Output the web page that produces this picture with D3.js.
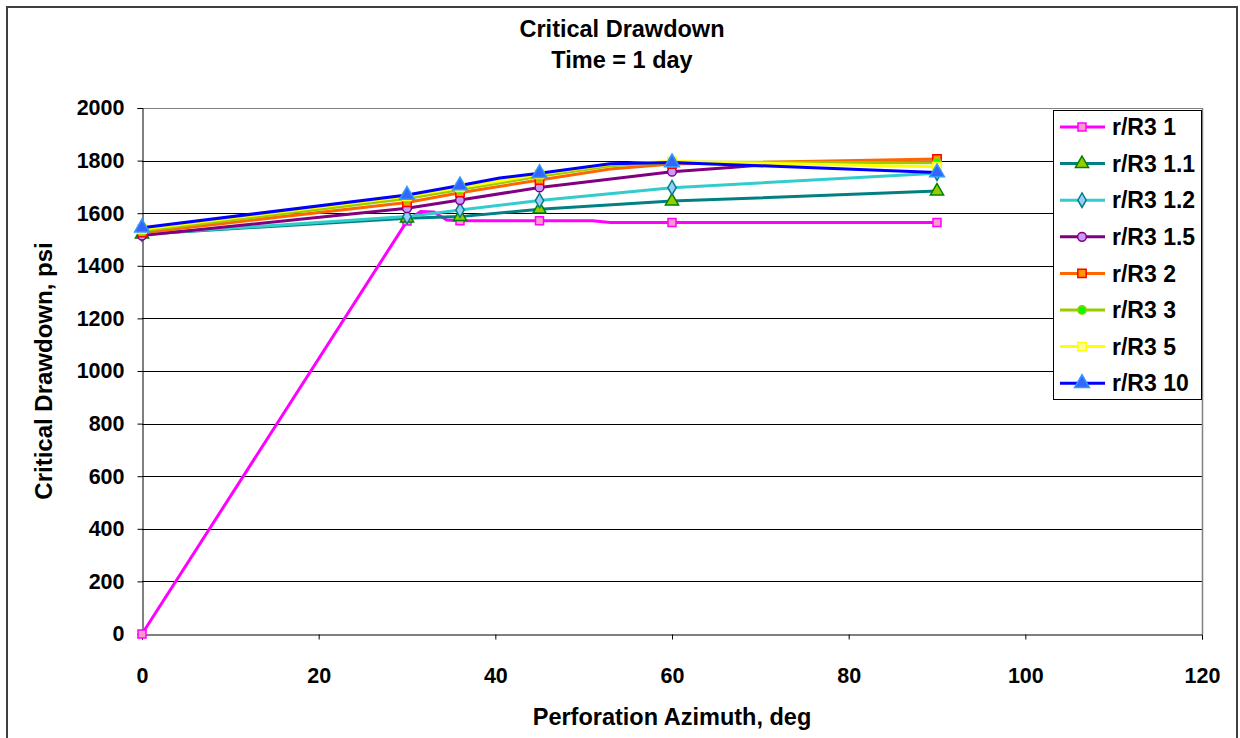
<!DOCTYPE html>
<html>
<head>
<meta charset="utf-8">
<script src="https://cdn.jsdelivr.net/npm/d3@7/dist/d3.min.js"></script>
<style>
  html, body { margin: 0; padding: 0; background: #fff; }
  svg { display: block; }
  text { font-family: "Liberation Sans", Arial, sans-serif; font-weight: bold; fill: #000; }
</style>
</head>
<body>
<svg id="chart" width="1240" height="738"></svg>
<script>
// ---- data ----
const azimuth = [0, 30, 36, 45, 60, 90];
const seriesNames = ["r/R3 1", "r/R3 1.1", "r/R3 1.2", "r/R3 1.5", "r/R3 2", "r/R3 3", "r/R3 5", "r/R3 10"];
const s1   = [0,    1570, 1571, 1571, 1565, 1565];
const s1_1 = [1520, 1581, 1587, 1615, 1646, 1684];
const s1_2 = [1521, 1587, 1612, 1648, 1697, 1752];
const s1_5 = [1515, 1619, 1650, 1698, 1758, 1795];
const s2   = [1526, 1641, 1678, 1726, 1787, 1806];
const s3   = [1533, 1656, 1690, 1740, 1794, 1792];
const s5   = [1539, 1664, 1698, 1748, 1797, 1777];
const s10  = [1545, 1669, 1705, 1752, 1793, 1755];
const seriesValues = [s1, s1_1, s1_2, s1_5, s2, s3, s5, s10];
// intermediate (unmarked) line vertices: [azimuth, drawdown]
const s1_between   = [[31.5, 1606], [33, 1605], [34.5, 1574], [51, 1571], [53, 1565]];
const s1_1_between = [];
const s1_2_between = [];
const s1_5_between = [[67, 1775], [72, 1788], [80, 1793]];
const s2_between   = [[53, 1768]];
const s3_between   = [[53, 1780]];
const s5_between   = [[53, 1786]];
const s10_between  = [[40.5, 1734], [53, 1788]];
const seriesBetween = [s1_between, s1_1_between, s1_2_between, s1_5_between, s2_between, s3_between, s5_between, s10_between];
const xTicks = [0, 20, 40, 60, 80, 100, 120];
const yTicks = [0, 200, 400, 600, 800, 1000, 1200, 1400, 1600, 1800, 2000];
const chartTitle = ["Critical Drawdown", "Time = 1 day"];
const xTitle = "Perforation Azimuth, deg";
const yTitle = "Critical Drawdown, psi";

// ---- styles ----
const styles = [
  {line: "#FF00FF", fill: "#FF99CC", stroke: "#FF00FF", sym: d3.symbolSquare, size: 64},
  {line: "#008080", fill: "#99CC00", stroke: "#008000", sym: d3.symbolTriangle, size: 75},
  {line: "#33CCCC", fill: "#99CCFF", stroke: "#008080", sym: d3.symbolDiamond, size: 60},
  {line: "#800080", fill: "#CC99FF", stroke: "#800080", sym: d3.symbolCircle, size: 60},
  {line: "#FF6600", fill: "#FF9900", stroke: "#FF0000", sym: d3.symbolSquare, size: 70},
  {line: "#99CC00", fill: "#00FF00", stroke: "#99CC00", sym: d3.symbolCircle, size: 55},
  {line: "#FFFF00", fill: "#FFFF99", stroke: "#FFFF00", sym: d3.symbolSquare, size: 70},
  {line: "#0000FF", fill: "#3366FF", stroke: "#3399FF", sym: d3.symbolTriangle, size: 95}
];

const svg = d3.select("#chart");
const plot = {left: 142, right: 1202, top: 108, bottom: 634};

const x = d3.scaleLinear().domain([0, 120]).range([plot.left, plot.right]);
const y = d3.scaleLinear().domain([0, 2000]).range([plot.bottom, plot.top]);

// outer chart border
svg.append("rect").attr("x", 7).attr("y", 7).attr("width", 1230).attr("height", 745)
  .attr("fill", "#fff").attr("stroke", "#404040").attr("stroke-width", 2);

// gridlines
svg.append("g").selectAll("line").data(yTicks.filter(d => d > 0)).join("line")
  .attr("x1", plot.left).attr("x2", plot.right)
  .attr("y1", d => Math.round(y(d)) + 0.5).attr("y2", d => Math.round(y(d)) + 0.5)
  .attr("stroke", d => d === 2000 ? "#808080" : "#000").attr("stroke-width", 1);

// right plot border
svg.append("line").attr("x1", plot.right + 0.5).attr("x2", plot.right + 0.5)
  .attr("y1", plot.top).attr("y2", plot.bottom)
  .attr("stroke", "#808080").attr("stroke-width", 1.5);

// axes
const yAxis = d3.axisLeft(y).tickValues(yTicks).tickSize(5).tickPadding(13).tickFormat(d3.format("d"));
const gy = svg.append("g").attr("transform", `translate(${plot.left + 0.5},0)`).call(yAxis);
gy.select(".domain").attr("stroke", "#000");
gy.selectAll(".tick line").attr("stroke", "#000");
gy.selectAll("text").style("font-size", "21.5px").style("font-family", "Liberation Sans, Arial, sans-serif").style("font-weight", "bold");

const xAxis = d3.axisBottom(x).tickValues(xTicks).tickSize(5).tickPadding(28).tickFormat(d3.format("d"));
const gx = svg.append("g").attr("transform", `translate(0,${plot.bottom + 0.5})`).call(xAxis);
gx.select(".domain").attr("stroke", "#000");
gx.selectAll(".tick line").attr("stroke", "#000");
gx.selectAll("text").style("font-size", "21.5px").style("font-family", "Liberation Sans, Arial, sans-serif").style("font-weight", "bold");

// series
const line = d3.line().x(d => x(d[0])).y(d => y(d[1])).curve(d3.curveLinear);
const gS = svg.append("g");
seriesValues.forEach((vals, k) => {
  const st = styles[k];
  const pts = vals.map((v, i) => [azimuth[i], v]).concat(seriesBetween[k]).sort((a, b) => a[0] - b[0]);
  gS.append("path").datum(pts).attr("d", line)
    .attr("fill", "none").attr("stroke", st.line).attr("stroke-width", 3)
    .attr("stroke-linejoin", "round");
});
seriesValues.forEach((vals, k) => {
  const st = styles[k];
  gS.append("g").selectAll("path").data(vals).join("path")
    .attr("transform", (d, i) => `translate(${x(azimuth[i])},${y(d)})`)
    .attr("d", d3.symbol().type(st.sym).size(st.size))
    .attr("fill", st.fill).attr("stroke", st.stroke).attr("stroke-width", 1.5);
});

// titles
svg.append("text").attr("x", 622).attr("y", 37).attr("text-anchor", "middle")
  .style("font-size", "23.5px").text(chartTitle[0]);
svg.append("text").attr("x", 622).attr("y", 68).attr("text-anchor", "middle")
  .style("font-size", "23.5px").text(chartTitle[1]);
svg.append("text").attr("x", 672).attr("y", 725).attr("text-anchor", "middle")
  .style("font-size", "23.5px").text(xTitle);
svg.append("text").attr("transform", `translate(52,${(plot.top + plot.bottom) / 2}) rotate(-90)`)
  .attr("text-anchor", "middle").style("font-size", "24px").text(yTitle);

// legend
const lg = svg.append("g");
lg.append("rect").attr("x", 1053.5).attr("y", 110.5).attr("width", 148).attr("height", 289)
  .attr("fill", "#fff").attr("stroke", "#000").attr("stroke-width", 1);
seriesNames.forEach((name, k) => {
  const st = styles[k];
  const cy = 127 + k * 36.6;
  lg.append("line").attr("x1", 1060).attr("x2", 1105).attr("y1", cy).attr("y2", cy)
    .attr("stroke", st.line).attr("stroke-width", 3);
  lg.append("path").attr("transform", `translate(1082,${cy})`)
    .attr("d", d3.symbol().type(st.sym).size(st.size))
    .attr("fill", st.fill).attr("stroke", st.stroke).attr("stroke-width", 1.5);
  lg.append("text").attr("x", 1112).attr("y", cy).attr("dy", "0.36em")
    .style("font-size", "23px").text(name);
});
</script>
</body>
</html>
